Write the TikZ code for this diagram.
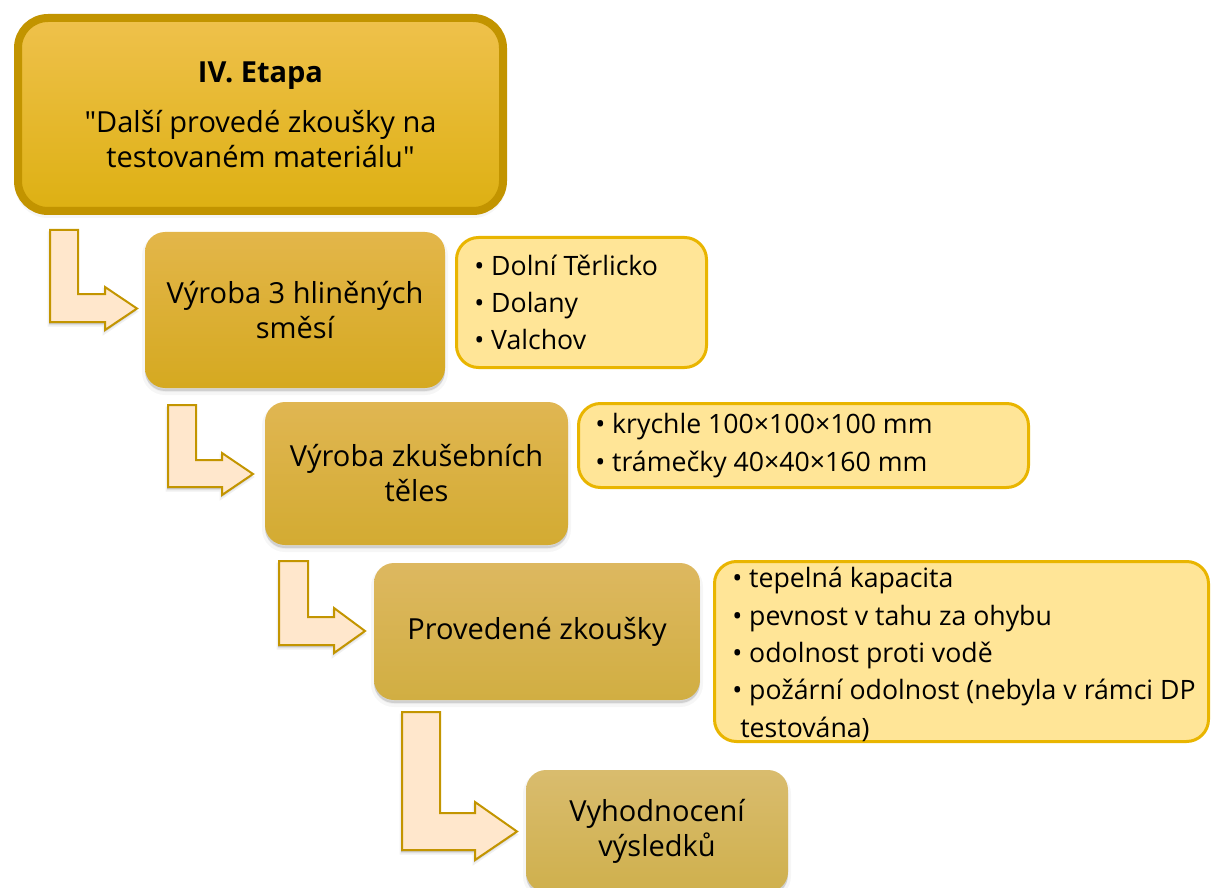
\documentclass[tikz,border=0pt]{standalone}
\usepackage{fontspec}
\setmainfont{Open Sans}[Ligatures=TeXOff]
\usetikzlibrary{shadows}
\newdimen\px \px=0.75pt
\definecolor{goldline}{HTML}{C29400}
\definecolor{noteline}{HTML}{E9B500}
\definecolor{notefill}{HTML}{FFE597}
\definecolor{arrowfill}{HTML}{FFE7CC}
\definecolor{arrowline}{HTML}{C39500}
\definecolor{HeadTop}{HTML}{EFC14C}
\definecolor{HeadMid}{HTML}{EDBB12}
\definecolor{HeadBot}{HTML}{DDB012}
\begin{document}
\begin{tikzpicture}[x=0.75pt, y=-0.75pt,
  softshadow/.style={
    general shadow={fill=black, draw=black, line width=6\px, opacity=.035, shadow yshift=-4\px},
    general shadow={fill=black, opacity=.12, shadow yshift=-3\px}},
  headbox/.style={rectangle, rounded corners=30\px, draw=goldline, line width=8\px,
    top color=HeadTop, middle color=HeadMid, bottom color=HeadBot,
    align=center, inner sep=0pt, softshadow,
    font=\fontsize{21.75pt}{26.25pt}\selectfont},
  stagebox/.style={rectangle, rounded corners=20\px, align=center, inner sep=0pt,
    softshadow, font=\fontsize{21.75pt}{26.25pt}\selectfont},
  notebox/.style={rectangle, rounded corners=22\px, draw=noteline, line width=3\px,
    fill=notefill, inner sep=0pt},
  notetext/.style={anchor=west, align=left, inner sep=0pt,
    font=\fontsize{20pt}{28pt}\selectfont},
  bent/.style={fill=arrowfill, draw=arrowline, line width=2\px, line join=miter,
    general shadow={fill=black, draw=black, line width=3\px, opacity=.06, shadow xshift=-1\px, shadow yshift=-3\px},
    general shadow={fill=black, opacity=.15, shadow xshift=-1\px, shadow yshift=-2\px}},
]
\useasboundingbox (0,0) rectangle (1211,888);
\clip (0,0) rectangle (1211,888);

% stage heading
\node[headbox, minimum width=485\px, minimum height=193\px] (head) at (260.5,114.5)
  {{\bfseries IV. Etapa}\\[11.25pt]"Další provedé zkoušky na\\testovaném materiálu"};

% bent arrows leading down the staircase
\draw[bent] (50,230) -- (78,230) -- (78,294) -- (105,294) -- (105,287) -- (137,308.5)
  -- (105,330) -- (105,322) -- (50,322) -- cycle;
\draw[bent] (168,405) -- (196,405) -- (196,460) -- (222,460) -- (222,453) -- (253,474)
  -- (222,495) -- (222,487) -- (168,487) -- cycle;
\draw[bent] (279,561) -- (308,561) -- (308,617) -- (334,617) -- (334,608) -- (365,631)
  -- (334,653) -- (334,645) -- (279,645) -- cycle;
\draw[bent] (402,712) -- (440,712) -- (440,813) -- (475,813) -- (475,802) -- (517,831.5)
  -- (475,860) -- (475,850) -- (402,850) -- cycle;

% stages
\node[stagebox, top color={rgb,255:red,227;green,182;blue,74},
  middle color={rgb,255:red,229;green,184;blue,35}, bottom color={rgb,255:red,213;green,169;blue,32},
  minimum width=300\px, minimum height=156\px] (s1) at (295,310)
  {Výroba 3 hliněných\\směsí};
\node[stagebox, top color={rgb,255:red,224;green,182;blue,82},
  middle color={rgb,255:red,224;green,181;blue,53}, bottom color={rgb,255:red,211;green,171;blue,50},
  minimum width=303\px, minimum height=143\px] (s2) at (416.5,473.5)
  {Výroba zkušebních\\těles};
\node[stagebox, top color={rgb,255:red,221;green,184;blue,96},
  middle color={rgb,255:red,219;green,181;blue,72}, bottom color={rgb,255:red,209;green,174;blue,66},
  minimum width=326\px, minimum height=137\px] (s3) at (537,631.5)
  {Provedené zkoušky};
\node[stagebox, top color={rgb,255:red,217;green,188;blue,110},
  middle color={rgb,255:red,214;green,183;blue,90}, bottom color={rgb,255:red,207;green,176;blue,77},
  minimum width=262\px, minimum height=122\px] (s4) at (657,831)
  {Vyhodnocení\\výsledků};

% notes beside the stages
\node[notebox, minimum width=250\px, minimum height=130\px] (n1) at (581.5,302.5) {};
\node[notetext] (n1t) at ([xshift=19\px]n1.west)
  {• Dolní Těrlicko\\• Dolany\\• Valchov};
\node[notebox, minimum width=450\px, minimum height=84\px] (n2) at (803.5,445.5) {};
\node[notetext] (n2t) at ([xshift=18\px]n2.west)
  {• krychle 100×100×100 mm\\• trámečky 40×40×160 mm};
\node[notebox, minimum width=494\px, minimum height=180\px] (n3) at (961.5,651.5) {};
\node[notetext] (n3t) at ([xshift=19\px, yshift=-3\px]n3.west)
  {• tepelná kapacita\\• pevnost v tahu za ohybu\\• odolnost proti vodě\\• požární odolnost (nebyla v rámci DP\\\hspace*{0.3em}testována)};
\end{tikzpicture}
\end{document}
